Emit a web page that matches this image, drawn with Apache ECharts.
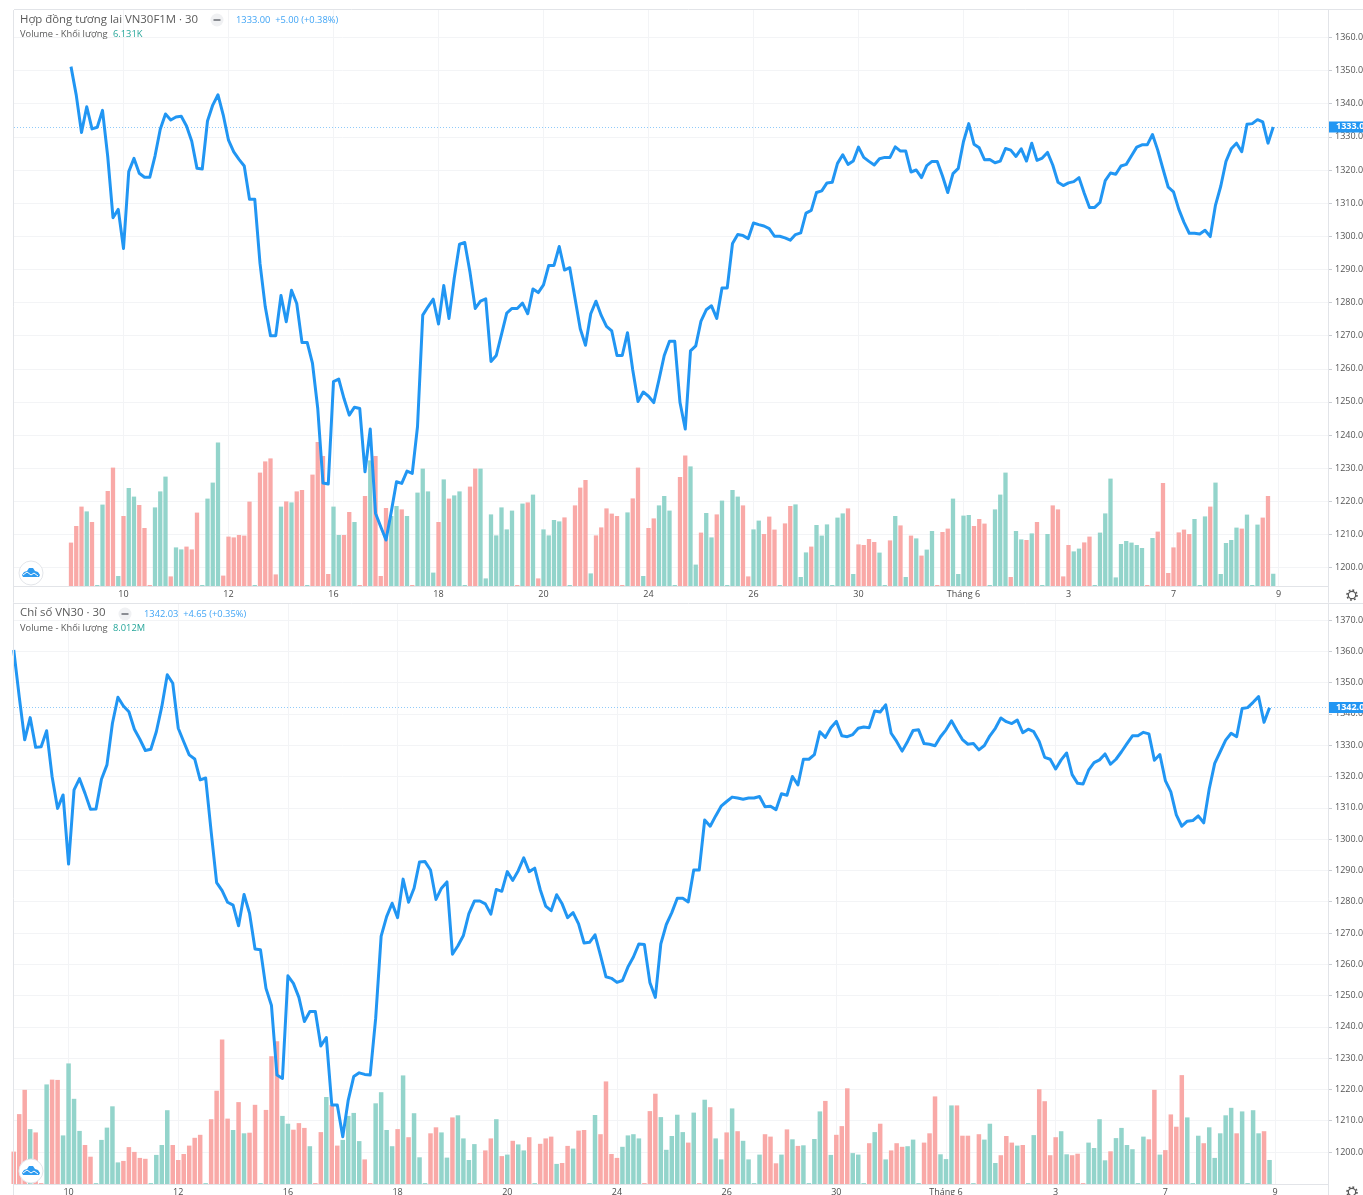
<!DOCTYPE html>
<html>
<head>
<meta charset="utf-8">
<title>VN30F1M / VN30</title>
<style>
  html, body { margin: 0; padding: 0; background: #fff; overflow: hidden; }
  #chart { width: 1363px; height: 1195px; }
</style>
<script src="https://cdn.jsdelivr.net/npm/echarts@6/dist/echarts.min.js"></script>
</head>
<body>
<div id="chart"></div>
<script>
// 30 minute bars, index 0..229, 10 bars per session
const dayTicks = [10, 30, 50, 70, 90, 110, 130, 150, 170, 190, 210, 230]
const dayLabels = ['10', '12', '16', '18', '20', '24', '26', '30', 'Tháng 6', '3', '7', '9']
const priceTicks1 = [1200, 1210, 1220, 1230, 1240, 1250, 1260, 1270, 1280, 1290, 1300, 1310, 1320, 1330, 1340, 1350, 1360]
const priceTicks2 = [1200, 1210, 1220, 1230, 1240, 1250, 1260, 1270, 1280, 1290, 1300, 1310, 1320, 1330, 1340, 1350, 1360, 1370]

const futuresClose = [
  1351.2, 1342.6, 1331.3, 1339.1, 1332.4, 1332.9, 1338, 1324, 1305.6, 1308.1,
  1296.3, 1319.5, 1323.5, 1319, 1317.8, 1317.8, 1324.2, 1332.3, 1336.9, 1335.1,
  1336, 1336.2, 1333.3, 1328.7, 1320.5, 1320.3, 1334.8, 1339.6, 1342.7, 1336.6,
  1329, 1325.5, 1323.2, 1321.2, 1311.2, 1311.2, 1291.8, 1278.7, 1270, 1270,
  1282.1, 1274.2, 1283.7, 1279.7, 1267.9, 1267.9, 1261.6, 1248, 1225.5, 1225.2,
  1256.1, 1256.9, 1251, 1246, 1248.4, 1248, 1228.9, 1241.8, 1216.4, 1212.3,
  1208.3, 1216.8, 1225.9, 1225.4, 1229.1, 1228.4, 1242.5, 1276.2, 1278.7, 1281,
  1273.5, 1285.1, 1275.2, 1287.4, 1297.6, 1298.1, 1289.1, 1278.2, 1280.4, 1281.1,
  1262.2, 1264, 1270.4, 1276.8, 1278.2, 1278.2, 1279.8, 1276.6, 1284.1, 1283,
  1285.3, 1291.2, 1291.2, 1296.9, 1289.8, 1290.5, 1281.3, 1272.1, 1267.1, 1276.6,
  1280.4, 1276.1, 1272.8, 1271.4, 1264, 1264, 1270.9, 1259.6, 1250.1, 1253,
  1251.7, 1249.8, 1256.7, 1264, 1268.3, 1268.3, 1249.8, 1241.8, 1265.4, 1266.9,
  1274.4, 1277.8, 1279, 1275.2, 1284.4, 1284.4, 1297.8, 1300.5, 1300.2, 1299.3,
  1304, 1303.5, 1303.1, 1302.3, 1300, 1300, 1299.5, 1298.8, 1300.5, 1301,
  1307, 1307.8, 1313.2, 1313.7, 1316.1, 1316.3, 1322, 1324.6, 1321.7, 1322.7,
  1326.9, 1323.8, 1322.6, 1321.5, 1323.4, 1323.8, 1323.8, 1327, 1325.7, 1325.7,
  1319.4, 1320, 1317.7, 1321.3, 1322.6, 1322.6, 1318.2, 1313.2, 1318.9, 1320.5,
  1328.6, 1334, 1327.8, 1326.7, 1323.1, 1323.2, 1322.2, 1322.7, 1326.5, 1326,
  1324.1, 1326.4, 1322.7, 1328.1, 1322.9, 1323.6, 1325.3, 1321.5, 1316.3, 1315.3,
  1316.1, 1316.5, 1317.7, 1313, 1308.7, 1308.7, 1310.2, 1316.8, 1319.1, 1318.7,
  1321.2, 1321.7, 1324.3, 1326.9, 1327.6, 1327.6, 1330.7, 1326, 1320.3, 1314.8,
  1313.4, 1308.2, 1304.2, 1300.9, 1300.9, 1300.7, 1301.8, 1299.9, 1309.4, 1315.1,
  1322.6, 1326.4, 1328.1, 1325.5, 1333.8, 1334, 1335.2, 1334.5, 1328.1, 1333,
]

// volume in thousands
const futuresVolume = [
  21.7, 30, 39.7, 37.3, 32, 0.5, 40.7, 47.5, 59.2, 5,
  35, 49, 44.7, 40.5, 29, 0.5, 39.3, 47.3, 54.7, 4.8,
  19.3, 18.3, 19.7, 18.3, 36.7, 0.5, 43.7, 51.7, 71.7, 5.2,
  24.7, 24.3, 25.5, 25.2, 42.2, 0.5, 56.7, 62.3, 63.8, 5.8,
  39.7, 42.3, 41.8, 47.3, 48, 0.5, 55.7, 72, 65, 6,
  39.7, 25.5, 25.5, 37, 32, 0.5, 45, 62.8, 65, 5,
  39, 35, 40, 38.3, 35, 0.5, 46.7, 58.7, 47.3, 6.7,
  32, 53.3, 43.7, 45.3, 47.3, 0.5, 49.7, 58.7, 58.7, 3.8,
  35.8, 25.3, 39.3, 28.3, 37.7, 0.5, 41.2, 41.8, 45.7, 3.8,
  28.3, 25.3, 33, 32.3, 34.3, 0.5, 40.3, 49.2, 53, 6.3,
  25.3, 29.3, 38.8, 36.2, 35, 0.5, 36.8, 43.8, 59.2, 5,
  29, 33.8, 40.3, 45, 37.7, 0.5, 54.5, 65.2, 59.8, 10.7,
  26.7, 36.5, 24.3, 35.8, 42.7, 0.5, 48, 44.7, 40.3, 4.8,
  28.3, 32.7, 26, 34.7, 28.2, 0.5, 31.3, 40, 40.8, 4.5,
  16.8, 19.7, 30.5, 25.2, 30.8, 0.5, 34.2, 36.3, 38.8, 6,
  20.8, 20.5, 23.5, 22, 16.7, 0.5, 22.8, 35, 30.3, 4.5,
  25.2, 23.8, 15.2, 18.2, 27.5, 0.5, 27, 28.7, 43.7, 6,
  35.2, 35.5, 30, 33.5, 31.2, 0.5, 38.3, 45.7, 56.7, 4.5,
  27.5, 23.3, 23, 26.3, 32, 0.5, 26, 40.3, 38.3, 4.8,
  20.5, 17.3, 18.7, 21.8, 24.7, 0.5, 26.7, 36.3, 53.7, 4.3,
  21, 22.5, 21.7, 20.5, 19, 0.5, 24, 27.2, 51.5, 6.5,
  19.3, 26.8, 28.2, 26, 33.5, 0.5, 34.8, 39.7, 51.7, 6,
  21.5, 23, 29.2, 28.7, 35.7, 0.5, 30.7, 34.2, 45, 6.131,
]

// G = up bar, R = down bar
const futuresDir = [
  'RRRGRGGRRG', 'RGGRRRGGGR', 'GGRRRGGGGR', 'RRRRRGRRRR', 'GRGRRGRRRR', 'GGRRGRRGRR',
  'RGGRGRGGGG', 'RGRGGGRRGG', 'GGGGGRGRGR', 'GGGGRGRRRG', 'RRRRRRGRRG', 'RRGGGGRRGG',
  'RGGRGGGGRR', 'GGRRRGRRGG', 'GRGGGGGGRG', 'RRRRGGRGRG', 'RGRGGRRRGG', 'GGRRRGGGGR',
  'GGRGRGGRRR', 'RGGRRGGGGG', 'GGGGGRGRRR', 'RRRRGGGRGG', 'GGGRGGGRRG',
].join('')

const indexClose = [
  1360.4, 1345.5, 1331.7, 1338.8, 1329.3, 1329.5, 1334.6, 1319.9, 1309.8, 1314.1,
  1292, 1315.7, 1319.3, 1314.6, 1309.5, 1309.6, 1319.1, 1323.7, 1337, 1345.3,
  1342.5, 1340.7, 1335.1, 1331.9, 1328.3, 1328.7, 1334.3, 1342.3, 1352.5, 1349.8,
  1335.4, 1331.1, 1326.9, 1325.6, 1318.9, 1319.5, 1302.4, 1286.1, 1283.5, 1279.8,
  1278.9, 1272.3, 1282.3, 1276.3, 1264.9, 1264.6, 1252.3, 1246.8, 1224.6, 1223.5,
  1256.3, 1253.9, 1249.4, 1241.7, 1244.9, 1244.9, 1233.9, 1236.6, 1215, 1215,
  1204.9, 1216.6, 1224.1, 1225.3, 1224.8, 1224.6, 1242.7, 1269, 1275.2, 1279.5,
  1274.9, 1287.2, 1279.8, 1284.3, 1292.7, 1292.8, 1290.1, 1280.7, 1284.3, 1286.3,
  1263.2, 1265.9, 1269.2, 1276.2, 1280.2, 1280.2, 1279.3, 1276, 1283.9, 1283.3,
  1289.6, 1286.8, 1289.9, 1294, 1289.6, 1290.7, 1283.9, 1278.6, 1277.1, 1282.2,
  1279.3, 1274.9, 1276.5, 1272.9, 1266.8, 1267, 1269.4, 1262.8, 1256, 1255.5,
  1254.2, 1254.8, 1259.1, 1262.3, 1266.5, 1266.3, 1254.2, 1249.4, 1266.5, 1272.7,
  1276.5, 1281.1, 1281.1, 1279.9, 1290.1, 1290.1, 1306.1, 1304.1, 1307.4, 1310.5,
  1312, 1313.4, 1313.1, 1312.7, 1313.1, 1313.1, 1313.6, 1310.3, 1310.5, 1309.4,
  1314.5, 1314, 1320, 1317.3, 1325.5, 1325.5, 1327, 1334.3, 1332.5, 1335.6,
  1337.6, 1333, 1332.7, 1333.4, 1335.4, 1335.8, 1335.6, 1340.9, 1340.6, 1342.9,
  1333.8, 1331.2, 1328.1, 1331.2, 1334.7, 1334.9, 1330.5, 1330.3, 1329.8, 1332.7,
  1334.9, 1337.8, 1334.7, 1331.8, 1330.3, 1330.5, 1328.5, 1329.9, 1333, 1335.4,
  1338.7, 1337.5, 1336.9, 1338, 1334, 1335.1, 1334.3, 1331.2, 1326.1, 1325.5,
  1322.4, 1325.3, 1327.5, 1320.6, 1317.8, 1317.6, 1322, 1324.4, 1325.3, 1327.2,
  1323.9, 1325.5, 1327.9, 1330.5, 1333, 1333, 1334.1, 1333.6, 1325.2, 1327,
  1318.7, 1315.1, 1307.7, 1304.1, 1305.7, 1305.9, 1307.4, 1305.2, 1316, 1324.2,
  1327.9, 1331.6, 1333.8, 1332.7, 1341.7, 1342, 1343.7, 1345.5, 1337.3, 1342,
]

// volume in millions
const indexVolume = [
  10.8, 23.3, 31.4, 18.3, 17.2, 0.3, 33.2, 34.8, 34.7, 16.2,
  40.2, 28.4, 17.7, 13, 9.1, 0.3, 14.7, 18.8, 25.9, 7.2,
  7.7, 12.3, 10.7, 8.7, 8.4, 0.3, 9.7, 13, 24.6, 13,
  8, 10, 12.8, 15.4, 16.4, 0.3, 21.6, 31.1, 48.2, 21.8,
  18, 27.3, 16.9, 17.1, 26.4, 0.3, 24.7, 42.6, 47.6, 22.7,
  20.1, 18.1, 20.3, 18.7, 12.6, 0.3, 17.3, 29, 26.3, 12.8,
  14.7, 22.7, 23.7, 14.3, 8.2, 0.3, 26.9, 30.6, 18, 12.6,
  18.3, 36.2, 15.6, 23.6, 8.9, 0.3, 16.9, 18.9, 17.2, 8.8,
  22.2, 22.9, 15.2, 8, 13.3, 0.3, 11.2, 15.2, 21.6, 9.3,
  9.8, 14.4, 13.2, 11.2, 15.6, 0.3, 13.4, 15.2, 15.8, 6.7,
  7, 12.7, 11.8, 17.8, 18, 0.3, 23, 16.6, 34.2, 10,
  8.7, 12.4, 16.2, 16.6, 15.2, 0.3, 24.3, 30.1, 22.3, 11.4,
  16, 23.1, 17.3, 13.8, 23.8, 0.3, 28.1, 25.6, 15.2, 8.2,
  17.2, 25.2, 17.6, 14.4, 8.2, 0.3, 9.8, 16.6, 15.8, 6.9,
  9.8, 18.2, 14.9, 12.7, 12.9, 0.3, 15, 24.2, 27.7, 9.7,
  16.4, 19.3, 31.9, 10.3, 9.8, 0.3, 13.6, 17.3, 20.1, 8.2,
  11.2, 13.6, 12.4, 12.6, 14.8, 0.3, 13.8, 16.9, 29.2, 9.9,
  8.3, 26.2, 26.2, 16.1, 16.1, 0.3, 16.6, 14.8, 20.1, 7,
  9.6, 16, 13.8, 12.8, 13, 0.3, 16.3, 31.6, 27.6, 9.6,
  15.6, 17.6, 9.9, 9.6, 10.1, 0.3, 13.8, 12, 21.6, 7.9,
  10.9, 15.3, 18.7, 13, 11.6, 0.3, 15.8, 14.9, 31.4, 9.8,
  11.3, 23.2, 19.1, 36.3, 22.2, 0.3, 16.1, 13.6, 18.9, 8.7,
  16.9, 22.9, 25.4, 16.9, 24.2, 0.3, 24.6, 16.9, 17.6, 8.012,
]

const indexDir = [
  'RRRGRRGRRG', 'GGGRRGGGGG', 'RRRRRGGGGR', 'RRRRRGRRRR', 'GRGRRGRRRG', 'GRRRGRRGRR',
  'GGGGRRGGGG', 'RGRGGGRRGG', 'RGGGGRRRGR', 'GRGGRGRRRG', 'RRGRRGGRRR', 'RGGGGRRRGG',
  'GGGRGRGRGG', 'RGRGGGGRRR', 'GRGRGGGGRG', 'RRRGGGRGRG', 'RRRGGGRRRG', 'GGRRRGRGGG',
  'RRRGRGGRRR', 'RGGRRRGGGG', 'RGGGGGGRRG', 'RRRRGGGRGG', 'GGGRGGGGRG',
].join('')

const futuresLast = 1333
const indexLast = 1342.03

const C = {
  grid: '#f3f4f6', frame: '#e2e4e8', text: '#5a5a5a', line: '#2196f3', lastLine: '#90caf9',
  up: '#93d4cb', down: '#f9a9a7', quote: '#42a5f5', vol: '#26a69a',
}
const FONT = 'Open Sans, sans-serif'

function xAxis(gridIndex, min, max) {
  return {
    type: 'value', gridIndex, min, max,
    axisLine: { onZero: false, lineStyle: { color: C.frame } },
    axisTick: { show: false, customValues: dayTicks },
    axisLabel: {
      customValues: dayTicks, color: '#4a4a4a', fontSize: 9, fontFamily: FONT, margin: 4,
      formatter: v => dayLabels[dayTicks.indexOf(v)],
    },
    splitLine: { show: true, lineStyle: { color: C.grid } },
  }
}

function priceAxis(gridIndex, min, max, ticks) {
  return {
    type: 'value', gridIndex, min, max, position: 'right',
    axisLine: { show: false, onZero: false },
    axisTick: { show: true, length: 4, customValues: ticks, lineStyle: { color: '#c9ccd2' } },
    axisLabel: {
      customValues: ticks, color: '#555', fontSize: 9, fontFamily: FONT, margin: 7,
      formatter: v => v.toFixed(2),
    },
    splitLine: { show: true, lineStyle: { color: C.grid } },
  }
}

function volumeAxis(gridIndex, max) {
  return { type: 'value', gridIndex, min: 0, max, show: false, splitLine: { show: false } }
}

function lineSeries(axis, closes, last) {
  const dotted = { color: C.lastLine, type: [1, 2], width: 1, opacity: 1 }
  return {
    type: 'line', xAxisIndex: axis, yAxisIndex: axis * 2, z: 5,
    data: closes.map((v, i) => [i, v]),
    symbol: 'none',
    lineStyle: { color: C.line, width: 3, join: 'round' },
    markLine: {
      silent: true, symbol: 'none', animation: false,
      lineStyle: dotted,
      label: {
        position: 'end', distance: 0, color: '#fff', fontSize: 9, fontWeight: 'bold', fontFamily: FONT,
        backgroundColor: C.line, padding: [1, 9, 1, 8],
        formatter: p => p.value.toFixed(2),
      },
      data: [{ yAxis: last, lineStyle: dotted }],
    },
  }
}

function volumeSeries(axis, volume, dir, width) {
  return {
    type: 'bar', xAxisIndex: axis, yAxisIndex: axis * 2 + 1, z: 3,
    barWidth: width,
    data: volume.map((v, i) => ({
      value: [i, v],
      itemStyle: { color: dir[i] === 'G' ? C.up : C.down },
    })),
  }
}

function txt(text, x, y, font, fill) {
  return { type: 'text', z: 20, style: { text, x, y, font, fill, verticalAlign: 'middle' } }
}

function pill(cx, cy) {
  return [
    { type: 'circle', z: 20, shape: { cx, cy, r: 6.5 }, style: { fill: '#f0f1f3' } },
    { type: 'rect', z: 21, shape: { x: cx - 3.5, y: cy - 1, width: 7, height: 2 }, style: { fill: '#8a8d93' } },
  ]
}

function cloud(cx, cy) {
  const outline = [[-8, 4], [-9, 2], [-7, -1], [-4, -2], [-2, -5], [2, -5], [4, -2], [7, -1], [9, 2], [8, 4]]
  const crease = [[-8, 2], [-4, -1], [0, 2], [3, 0], [7, 3]]
  return [
    { type: 'circle', z: 20, shape: { cx, cy, r: 12 }, style: { fill: '#fff', stroke: '#e4e6ea', lineWidth: 1 } },
    { type: 'polygon', z: 21, shape: { points: outline.map(p => [cx + p[0], cy + p[1]]) }, style: { fill: '#2e9bf0' } },
    { type: 'polyline', z: 22, shape: { points: crease.map(p => [cx + p[0], cy + p[1]]) }, style: { fill: 'none', stroke: '#fff', lineWidth: 1 } },
  ]
}

function gear(cx, cy) {
  return [
    { type: 'circle', z: 20, shape: { cx, cy, r: 3.7 }, style: { fill: '#fff', stroke: '#555', lineWidth: 1.2 } },
    { type: 'circle', z: 19, shape: { cx, cy, r: 5 }, style: { fill: 'none', stroke: '#555', lineWidth: 1.6, lineDash: [1.8, 2.1] } },
  ]
}

function vline(x, y1, y2) {
  return { type: 'line', z: 15, shape: { x1: x, y1, x2: x, y2 }, style: { stroke: C.frame, lineWidth: 1 } }
}

function hline(y) {
  return { type: 'line', z: 15, shape: { x1: 14, y1: y, x2: 1363, y2: y }, style: { stroke: C.frame, lineWidth: 1 } }
}

function buildGraphic() {
  const big = `11.4px ${FONT}`
  const small = `9.3px ${FONT}`
  return [
    vline(13.5, 10, 1195), vline(1328.5, 10, 1195), hline(9.5), hline(603.5),
    txt('Hợp đồng tương lai VN30F1M · 30', 20, 19.5, big, C.text),
    ...pill(217, 20),
    txt('1333.00  +5.00 (+0.38%)', 236, 20.5, small, C.quote),
    txt('Volume - Khối lượng', 20, 34.5, small, C.text),
    txt('6.131K', 113, 34.5, small, C.vol),
    txt('Chỉ số VN30 · 30', 20, 613, big, C.text),
    ...pill(125, 614),
    txt('1342.03  +4.65 (+0.35%)', 144, 614.5, small, C.quote),
    txt('Volume - Khối lượng', 20, 628, small, C.text),
    txt('8.012M', 113, 628, small, C.vol),
    ...cloud(31, 573), ...cloud(31, 1171),
    ...gear(1352, 595), ...gear(1352, 1192),
  ]
}

function buildOption() {
  return {
    animation: false,
    backgroundColor: '#fff',
    grid: [
      { left: 14, top: 10, width: 1314, height: 576, outerBoundsMode: 'none' },
      { left: 14, top: 603, width: 1314, height: 581, outerBoundsMode: 'none' },
    ],
    xAxis: [xAxis(0, -10.857, 239.43), xAxis(1, 0.05, 239.66)],
    yAxis: [
      priceAxis(0, 1194.42, 1368.3, priceTicks1), volumeAxis(0, 288),
      priceAxis(1, 1189.78, 1375.43, priceTicks2), volumeAxis(1, 193.7),
    ],
    series: [
      volumeSeries(0, futuresVolume, futuresDir, 4.3),
      lineSeries(0, futuresClose, futuresLast),
      volumeSeries(1, indexVolume, indexDir, 4.5),
      lineSeries(1, indexClose, indexLast),
    ],
    graphic: buildGraphic(),
  }
}

const chart = echarts.init(document.getElementById('chart'), null, { renderer: 'canvas' })
chart.setOption(buildOption())
</script>
</body>
</html>
